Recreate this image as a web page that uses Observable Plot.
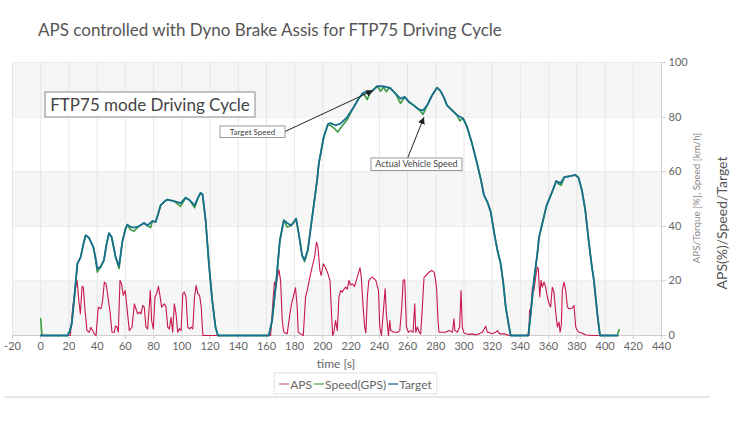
<!DOCTYPE html>
<html><head><meta charset="utf-8">
<script src="https://cdn.jsdelivr.net/npm/d3@7"></script>
<script src="https://cdn.jsdelivr.net/npm/@observablehq/plot@0.6"></script>
<style>body{margin:0;background:#fff;}</style>
</head><body><div id="chart"></div>
<script>
// ---- data ----
const seriesNames = ["APS", "Speed(GPS)", "Target"];
const xTicks = d3.range(-20, 441, 20);
const yTicks = d3.range(0, 101, 20);
const xDomain = [-20, 440];
const yDomain = [0, 100];
const bandRanges = [[0, 20], [40, 60], [80, 100]];

const targetT = [0,19,20.5,22,24,26,28.3,30.5,31.9,34.2,37.3,39,40.1,42.5,44.8,46.5,48.4,50.3,53.1,55.5,57.8,60,61.4,63.5,66.1,69.6,73.2,75.6,79.1,81.4,83.5,85,87.5,89.7,94.4,99.2,102.7,105.7,109.1,111.5,113.3,114.7,116.9,119.2,121.6,123.9,125.6,161.7,164,167,169.5,172.3,174.7,177.5,179.4,181,182.9,185.3,187,189.3,192.4,195.9,197.1,200.6,203.5,205.4,208.9,212.5,217.2,221.9,225.4,228.5,231.4,234.9,238.5,242,245.6,248,251.5,255,258,260.9,264.4,268,271,273.9,277.4,280.9,283.3,285.6,288,291.6,295.1,299.4,302.2,305.7,309.3,312,314.2,316.6,319,321.3,323.7,326,327.9,329.6,332,333.1,345.6,347.3,349.6,352,353.2,355.5,358.5,362.4,365.4,368.3,371.1,375.4,378.9,381.2,383.6,386,388.3,390.7,392.1,394.5,396.4,409];
const targetV = [0,0,1.5,4.3,15,26.3,28.7,34,36.7,35.8,32.4,28,24.4,25.3,27.5,33,37.5,36,28.7,25.3,34.2,39,40.6,39.8,39.5,40,41.2,40.3,41.9,41.6,45,47.7,49,49.8,49.2,48.5,50.5,49.5,47.7,50.5,52.2,51.7,42.2,26.3,12.8,3,0,0,5.5,20.2,34.8,42.2,41.2,40.3,41.6,42.8,37.3,29.3,27.7,31.2,43.4,56.8,63,72.7,77.4,77.8,77,77.6,80,83.7,86.8,88.9,89.2,89.6,91.3,91.3,91,90.5,88.6,86.8,87.4,85.6,84.3,82.8,82.5,84.3,88,90.8,89.6,87.4,84.3,82.5,80.7,79.5,76.4,70.3,63,57,51.3,48.9,45.2,37.9,31.2,26.3,19,10.4,3,0,0,8,20.2,30,36,41,47.5,52.5,56.6,55.8,58,58.4,58.8,57.8,53.2,45.8,35,25,20.2,8,0,0];

const speedT = [0,0.8,1.5,19,20.5,22,24,26,28.3,30.5,31.9,34.2,37.3,39,40.1,42.5,44.8,46.5,48.4,50.3,53.1,55.5,57.8,60,61.4,63.5,66.1,69.6,73.2,75.6,78,79.1,81.4,83.5,85,87.5,89.7,94.4,99.2,102.7,105.7,109.1,111.5,113.3,114.7,116.9,119.2,121.6,123.9,125.6,161.7,164,167,169.5,172.3,174.7,177.5,179.4,181,182.9,185.3,187,189.3,192.4,195.9,197.1,200.6,203.5,205.4,208.9,210.5,212.5,217.2,221.9,225.4,228.5,231.4,233,234.9,238.5,241,243,245,247,248,251.5,255,258,260.9,264.4,268,271,273.9,277.4,280.9,283.3,285.6,288,291.6,295.1,297,299.4,302.2,305.7,309.3,312,314.2,316.6,319,321.3,323.7,326,327.9,329.6,332,333.1,345.6,347.3,349.6,352,353.2,355.5,358.5,362.4,365.4,367,369,371.1,375.4,378.9,381.2,383.6,386,388.3,390.7,392.1,394.5,396.4,408.6,410];
const speedV = [6.1,0.3,0,0,1.5,4.3,15,26.3,28.7,34,36.7,35.8,32.4,27.5,23.2,25,27.5,33,37.5,36,28.7,24.5,34.2,39,40.6,38.8,38.2,40,41.2,40.3,39.5,41.9,41.6,45,47.7,49,49.8,49.2,47.3,50.5,49.5,46.8,50.5,52.2,51.7,42.2,26.3,12.8,3,0,0,5.5,20.2,34.8,42.2,39.7,40.3,41.6,42.8,37.3,29.3,27,31.2,43.4,56.8,63,72.7,77,77,75.5,74.5,76,79,83.7,86.8,88.9,86.4,88.5,89.6,91.3,89.5,91,89.3,90.8,90.5,88.6,85,87.4,85.6,84.3,82.8,81,84.3,88,90.8,89.6,87.4,84.3,82.5,80.7,78.6,79.5,76.4,70.3,63,57,51.3,48.9,45.2,37.9,31.2,26.3,19,10.4,3,0,0,8,20.2,30,36,41,47.5,52.5,56.6,55.5,55,58,58.4,58.8,57.8,53.2,45.8,35,25,20.2,8,0,0,2.2];

const apsT = [0,21,22.7,24.4,25.8,27,28.1,29.3,30.2,31.4,32.8,34.4,35.5,36.8,38,39.2,40.8,42.7,43.9,45.1,46.3,47.4,49.3,50.5,52.2,53,54.1,55,56.2,57.3,58.5,59.9,61.1,62.8,64.7,66.4,67.5,68.7,69.9,71.1,72.3,73.4,74.6,75.8,77.7,78.6,79.8,81,82.2,83.4,84.5,85.7,87.6,88.8,90,91.2,92.4,93.5,94.7,95.9,97.1,98.3,99.5,100.7,101.8,103,104.2,105.4,106.6,107.8,109,110.2,111.4,112.6,113.8,114.5,115,163,163.4,164.8,165.7,166.7,167.6,168.8,170,171.2,172.3,174.7,176.6,177.8,179,180.6,181.8,182.5,184.2,186.1,187.7,188.9,190.8,192.4,194.1,195.5,196.5,197.9,198.8,200.3,201.9,203.6,205,205.9,206.9,207.8,209,210.2,211.4,212.6,213.8,215,216.1,217.3,218.5,219.5,220.8,222.5,224.4,226.3,227.2,228.7,229.6,230.5,231.5,232.5,234,235.1,237.5,239.4,240.3,241.5,242.7,244.1,245,246.5,247.4,248.1,250.5,252.8,254.5,255.9,256.9,258,259.2,260.6,262.3,263.9,265.1,265.8,267,268.2,269.3,270.5,271.7,273.3,275.2,277.1,278.8,279.9,280.6,281.6,282.3,284.7,287,289.4,291.8,292.9,293.6,295.3,296.9,297.9,298.8,300,303.5,305.9,308.3,310.6,313,315.4,316.6,317.7,319.6,322.5,323.7,325.3,328.4,331.9,346,346.5,347.5,348.5,349.6,350.8,352,352.7,353.7,354.6,355.5,356.7,357.9,359.1,360.3,361.4,362.6,363.8,365,366.2,367.4,368.1,369,369.7,370.9,372.1,373.3,374.5,376.8,378,379.2,380.3,381.5,383.4,386.3,391,400];
const apsV = [0,0,10.4,16.5,20.2,12.8,7.9,18,17.7,9.2,1.8,1.2,3,1.8,0.5,0,10.4,9.8,12.8,19.6,18.9,15.3,7.9,1.2,1.2,3.5,3.1,1.2,20.2,18.9,14.7,16.5,10.4,1.8,3.1,11.6,9.8,7.9,8.6,7.9,11,10.4,3.1,2.4,16.5,5.5,2.4,14.1,15.3,18,14.7,10.4,11.6,10.4,3.1,2.4,6.7,1.2,11.6,7.9,1.2,2.5,1.8,15.3,15.9,14.1,3.1,2.4,3.1,2.4,14.1,18.3,15.3,14.7,10.4,3.1,0,0,3.1,14.1,19.6,17.7,20.8,24.1,20.2,5.5,1.2,0.6,7.9,11.6,14.1,17.5,10.4,1.2,0.6,0,14.1,16.5,21.4,25.1,28.7,34.2,32.4,23.8,22,26.3,24.8,22.6,20.2,10.4,0,1.2,5.5,1.8,14.1,16.5,15.9,17,17.7,17,20.2,18.5,18.9,18,21.4,24.8,21.4,9.2,3.1,1,14,20,21,21.4,20.2,16.5,3.1,0,7.9,17.1,7.9,0,5.5,1.8,1.2,1.2,1.8,10.4,20.2,20.4,3.1,1.2,1.8,1.2,11.6,1.2,3.1,1.2,0.6,10.4,21.4,22,23.2,23.8,23.2,20.2,17.1,5.5,1.2,1.2,1.2,1.8,1.2,6.1,1.8,1.2,3.1,16.5,3.1,0.9,0.4,0.6,0.2,0.6,1.2,3.4,1.2,1.2,0.6,1.2,1.8,0.6,0.6,0,0,9.2,10.1,17.7,16.5,21.4,25.1,24.5,14.1,20.2,17.7,19.6,17.7,14.1,11.6,10.4,17.7,15.9,8.6,3.1,4.9,1.2,3.7,16.5,19.6,16.5,10.4,9.8,10.1,11,3.1,1.8,1.2,0.9,0.2,0,0];

const rows = (ts, vs) => ts.map((t, i) => ({t, v: vs[i]}));
const aps = rows(apsT, apsV), speed = rows(speedT, speedV), target = rows(targetT, targetV);
const bands = bandRanges.map(([a, b]) => ({a, b, x1: xDomain[0], x2: xDomain[1]}));

const colors = {aps: "#c8174a", speed: "#3c9c42", target: "#186e8e"};
const legendColors = ["#e0a2b8", "#92c892", "#6f9fbf"];

const chart = Plot.plot({
  width: 744, height: 430,
  marginLeft: 12, marginRight: 83, marginTop: 62, marginBottom: 95,
  x: {domain: xDomain}, y: {domain: yDomain},
  style: {fontFamily: "Lato, 'Noto Sans', sans-serif", fontSize: "11px", color: "#666", background: "#fff"},
  marks: [
    Plot.rect(bands, {x1: "x1", x2: "x2", y1: "a", y2: "b", fill: "#f6f6f6"}),
    Plot.ruleY(yTicks, {stroke: "#ebebeb"}),
    Plot.ruleX(xTicks, {stroke: "#e6e6e6"}),
    Plot.ruleY([yDomain[0]], {stroke: "#cfcfcf"}),
    Plot.ruleX([xDomain[1]], {stroke: "#cfcfcf"}),
    Plot.axisX({ticks: xTicks, tickSize: 4, tickPadding: 3, tickFormat: d => String(d), stroke: "#cfcfcf", fill: "#666", label: null}),
    Plot.axisY({anchor: "right", ticks: yTicks, tickSize: 4, tickPadding: 3, tickFormat: d => String(d), stroke: "#cfcfcf", fill: "#666", label: null}),
    Plot.line(aps, {x: "t", y: "v", stroke: colors.aps, strokeWidth: 1.1}),
    Plot.line(speed, {x: "t", y: "v", stroke: colors.speed, strokeWidth: 1.6}),
    Plot.line(target, {x: "t", y: "v", stroke: colors.target, strokeWidth: 1.8})
  ]
});
document.getElementById("chart").appendChild(chart);

// ---- annotations ----
const xs = chart.scale("x"), ys = chart.scale("y");
const svg = d3.select(chart);
const font = "Lato, 'Noto Sans', sans-serif";
svg.append("defs").append("marker")
  .attr("id", "ah").attr("viewBox", "0 0 10 10").attr("refX", 10).attr("refY", 5)
  .attr("markerWidth", 7).attr("markerHeight", 7).attr("orient", "auto-start-reverse")
  .append("path").attr("d", "M0,0L10,5L0,10z").attr("fill", "#222");

svg.append("text").attr("x", 38).attr("y", 36).attr("text-anchor", "start").attr("font-family", font).attr("font-size", 17)
  .attr("fill", "#555").text("APS controlled with Dyno Brake Assis for FTP75 Driving Cycle");

svg.append("rect").attr("x", 45).attr("y", 92).attr("width", 210).attr("height", 25)
  .attr("fill", "#fff").attr("stroke", "#8a8a8a");
svg.append("text").attr("x", 150).attr("y", 110.5).attr("text-anchor", "middle").attr("font-family", font)
  .attr("font-size", 17).attr("fill", "#444").text("FTP75 mode Driving Cycle");

function callout(bx, by, bw, bh, label, fx, fy, tip, fs) {
  svg.append("line").attr("x1", fx).attr("y1", fy)
    .attr("x2", xs.apply(tip[0])).attr("y2", ys.apply(tip[1]))
    .attr("stroke", "#222").attr("stroke-width", 1).attr("marker-end", "url(#ah)");
  svg.append("rect").attr("x", bx).attr("y", by).attr("width", bw).attr("height", bh)
    .attr("fill", "#fff").attr("stroke", "#999");
  svg.append("text").attr("x", bx + bw / 2).attr("y", by + bh / 2).attr("dy", "0.35em")
    .attr("text-anchor", "middle").attr("font-family", font).attr("font-size", fs)
    .attr("fill", "#444").text(label);
}
callout(220, 126, 65, 11.5, "Target Speed", 285, 131.5, [236, 89.6], 8);
callout(371, 158, 91, 12.5, "Actual Vehicle Speed", 407.7, 158, [272, 79.8], 9);

// axis titles
svg.append("text").attr("x", 336).attr("y", 368).attr("text-anchor", "middle").attr("font-family", font)
  .attr("font-size", 12).attr("fill", "#666").text("time [s]");
svg.append("text").attr("transform", "translate(700,198) rotate(-90)").attr("text-anchor", "middle")
  .attr("font-family", font).attr("font-size", 9.8).attr("fill", "#888").text("APS/Torque [%], Speed [km/h]");
svg.append("text").attr("transform", "translate(727,223) rotate(-90)").attr("text-anchor", "middle")
  .attr("font-family", font).attr("font-size", 14).attr("fill", "#555").text("APS(%)/Speed/Target");

// legend: items laid out one after another, centred in the box
const lg = svg.append("g");
let cx = 0;
seriesNames.forEach((name, i) => {
  lg.append("line").attr("x1", cx).attr("x2", cx + 10).attr("y1", 384).attr("y2", 384)
    .attr("stroke", legendColors[i]).attr("stroke-width", 2);
  const t = lg.append("text").attr("x", cx + 11).attr("y", 388.5).attr("text-anchor", "start")
    .attr("font-family", font).attr("font-size", 12).attr("fill", "#666").text(name);
  cx += 11 + t.node().getComputedTextLength() + 2;
});
const boxW = cx + 8, boxX = 355.5 - boxW / 2;
lg.attr("transform", `translate(${boxX + 5},0)`);
svg.insert("rect", "g:last-of-type").attr("x", boxX).attr("y", 373).attr("width", boxW).attr("height", 21)
  .attr("fill", "#fff").attr("stroke", "#e2e2e2");
lg.raise();
svg.append("line").attr("x1", 4).attr("x2", 710).attr("y1", 397).attr("y2", 397)
  .attr("stroke", "#cfcfcf").attr("stroke-width", 1);
</script>
</body></html>
